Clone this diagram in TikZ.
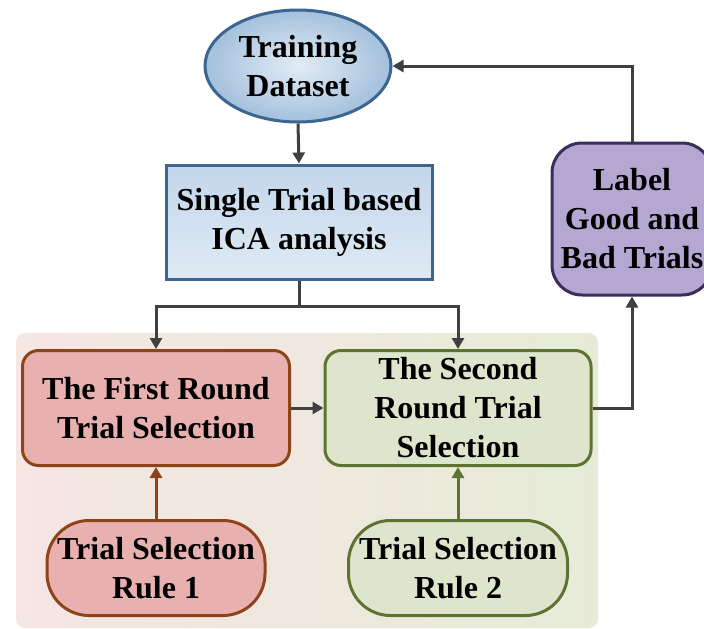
\documentclass[tikz,border=0pt]{standalone}
\usepackage{fontspec}
\setmainfont{Liberation Serif}
\usetikzlibrary{shapes.geometric,arrows.meta,shadings}
\definecolor{linegray}{HTML}{404040}
\definecolor{blueedge}{HTML}{3A6690}
\definecolor{bluein}{HTML}{E2ECF5}
\definecolor{blueout}{HTML}{A4C0DC}
\definecolor{icatop}{HTML}{C2D6EA}
\definecolor{icabot}{HTML}{E0EAF4}
\definecolor{redfill}{HTML}{E9B0B0}
\definecolor{rededge}{HTML}{8E4418}
\definecolor{greenfill}{HTML}{DFE5CD}
\definecolor{greenedge}{HTML}{5C7331}
\definecolor{purplefill}{HTML}{B4A8D2}
\definecolor{purpleedge}{HTML}{3B2D5C}
\definecolor{panelleft}{HTML}{F6E6E4}
\definecolor{panelright}{HTML}{E6EBD8}
\tikzset{
  x=1pt, y=-1pt,
  txt/.style={font=\fontsize{32}{39}\selectfont\bfseries, align=center, text=black},
  arr/.style={draw=linegray, line width=3pt, -{Triangle[width=12pt,length=11pt]}},
  plain/.style={draw=linegray, line width=3pt},
  edgebox/.style={txt, line width=3pt, inner sep=0pt},
}
\begin{document}
\begin{tikzpicture}
\useasboundingbox (0,0) rectangle (704,629);
% shaded panel behind the two selection rounds
\shade[left color=panelleft, right color=panelright, rounded corners=9pt]
  (16,333) rectangle (598,628);

\node[edgebox, ellipse, draw=blueedge, inner color=bluein, outer color=blueout,
      minimum width=186pt, minimum height=112pt] (ds) at (298,66) {Training\\Dataset};
\node[edgebox, rectangle, draw=blueedge, top color=icatop, bottom color=icabot,
      minimum width=266pt, minimum height=114pt] (ica) at (299,222) {Single Trial based\\ICA analysis};
\node[edgebox, rectangle, rounded corners=16pt, draw=rededge, fill=redfill,
      minimum width=267pt, minimum height=115pt] (r1box) at (156,408) {The First Round\\Trial Selection};
\node[edgebox, rectangle, rounded corners=16pt, draw=greenedge, fill=greenfill,
      minimum width=266pt, minimum height=115pt] (r2box) at (458,408) {The Second\\Round Trial\\Selection};
\node[edgebox, rectangle, rounded corners=42pt, draw=rededge, fill=redfill,
      minimum width=218pt, minimum height=95pt] (rule1) at (156,568) {Trial Selection\\Rule 1};
\node[edgebox, rectangle, rounded corners=42pt, draw=greenedge, fill=greenfill,
      minimum width=219pt, minimum height=95pt] (rule2) at (458,568) {Trial Selection\\Rule 2};
\node[edgebox, rectangle, rounded corners=30pt, draw=purpleedge, fill=purplefill,
      minimum width=160pt, minimum height=152pt] (lbl) at (632,219) {Label\\Good and\\Bad Trials};

\coordinate (split) at (299,306);
\draw[arr] (ds.south) -- (ica.north);
\draw[plain] (ica.south) -- (split);
\draw[arr] (split) -| (r1box.north);
\draw[arr] (split) -| (r2box.north);
\draw[arr] (r1box.east) -- (r2box.west);
\draw[arr, draw=rededge] (rule1.north) -- (r1box.south);
\draw[arr, draw=greenedge] (rule2.north) -- (r2box.south);
\draw[arr] (r2box.east) -| (lbl.south);
\draw[arr] (lbl.north) |- (ds.east);
\end{tikzpicture}
\end{document}
